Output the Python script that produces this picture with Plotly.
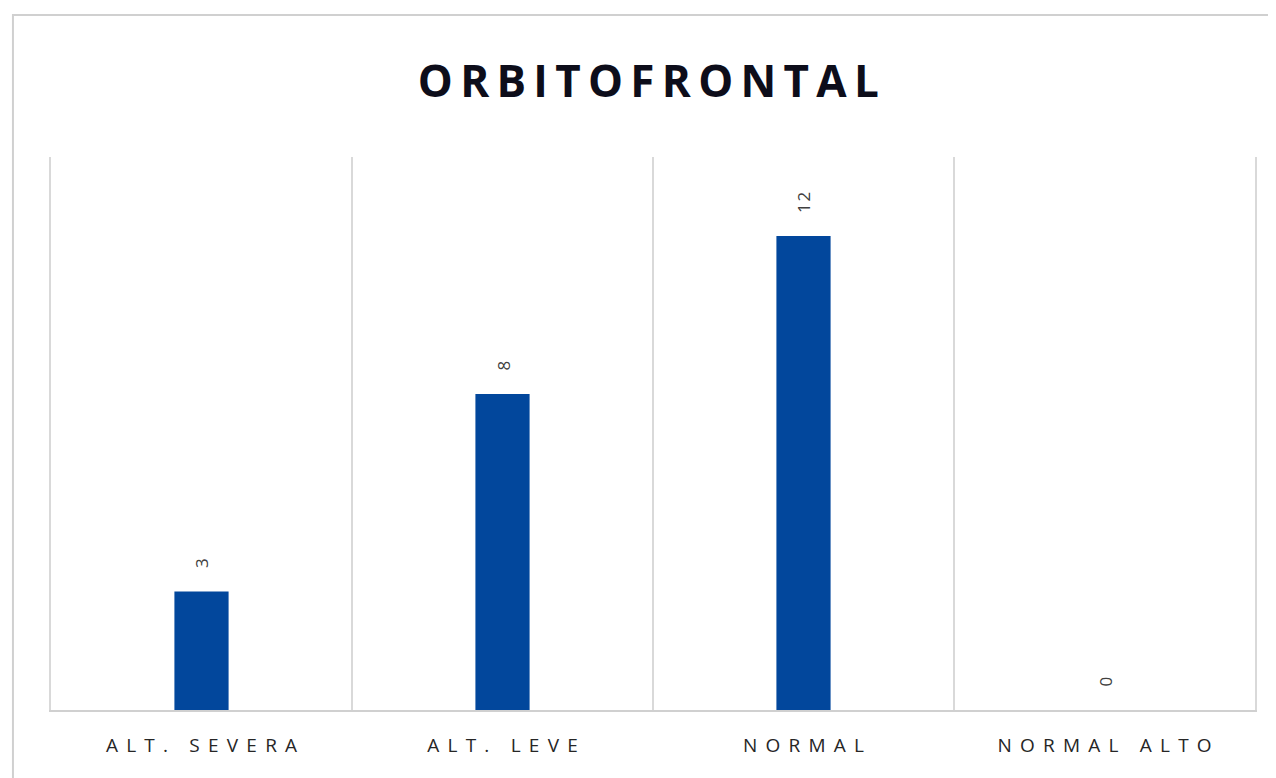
import plotly.graph_objects as go

categories = ["ALT. SEVERA", "ALT. LEVE", "NORMAL", "NORMAL ALTO"]
values = [3, 8, 12, 0]
title_text = "ORBITOFRONTAL"

SP = "\u2004\u200a"  # letter spacing for category labels


def spaced(s, sp=SP):
    return sp.join(list(s))


fig = go.Figure()
fig.add_trace(go.Bar(
    x=categories,
    y=values,
    width=0.18,
    marker=dict(color="#02479C", line=dict(width=0)),
    hoverinfo="x+y",
))

for c, v in zip(categories, values):
    fig.add_annotation(
        x=c, y=v, text=spaced(str(v), "\u200a"), showarrow=False, textangle=-90,
        yanchor="bottom", yshift=21,
        font=dict(family="Open Sans", size=17, color="#404040"),
    )

# outer chart border
fig.add_shape(type="rect", xref="paper", yref="paper",
              x0=-0.0316, x1=1.03, y0=-0.2, y1=1.2568,
              line=dict(color="#d0d0d0", width=2), layer="below")

fig.update_layout(
    width=1268, height=770,
    margin=dict(l=43, r=21, t=149, b=68),
    paper_bgcolor="white", plot_bgcolor="white",
    showlegend=False,
    title=dict(text="<b>" + spaced(title_text, "\u2009") + "</b>", x=0.505, xanchor="center",
               y=0.904, yanchor="middle",
               font=dict(family="Open Sans", size=44, color="#0d0d1a")),
    xaxis=dict(
        type="category",
        tickmode="array",
        tickvals=categories,
        ticktext=[spaced(c) for c in categories],
        tickson="boundaries",
        showgrid=True, gridcolor="#d9d9d9", gridwidth=1.5,
        showline=True, linecolor="#d0d0d0", linewidth=2,
        ticks="", ticklabelstandoff=17,
        tickfont=dict(family="Open Sans", size=19, color="#262626", weight=500),
        range=[-0.5, 3.5],
        zeroline=False,
    ),
    yaxis=dict(
        range=[0, 14], showgrid=False, showticklabels=False,
        zeroline=False, showline=True, mirror=True,
        linecolor="#d9d9d9", linewidth=1.5, ticks="",
    ),
)

fig.write_html("out.html")
